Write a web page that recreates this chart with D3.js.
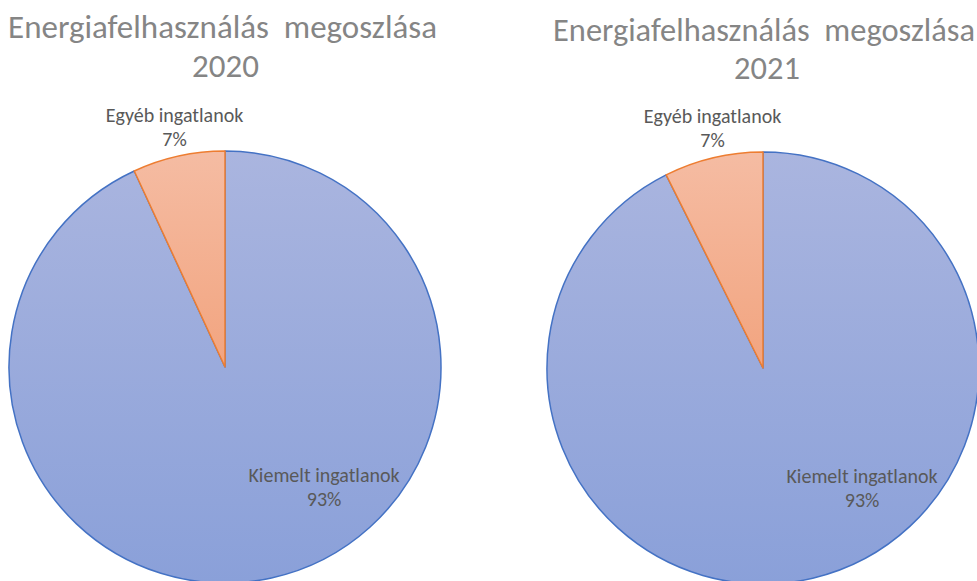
<!DOCTYPE html>
<html lang="hu">
<head>
  <meta charset="utf-8">
  <title>Energiafelhasználás megoszlása</title>
  <script src="https://d3js.org/d3.v7.min.js"></script>
  <style>
    body { margin: 0; background: #fff; }
    svg text { font-family: Calibri, Carlito, Lato, "Liberation Sans", sans-serif; }
  </style>
</head>
<body>
<div id="chart"></div>
<script>
  // adatok
  var evek = ["2020", "2021"];
  var kategoriak = ["Kiemelt ingatlanok", "Egyéb ingatlanok"];
  var ertekek2020 = [93.1, 6.9];
  var ertekek2021 = [92.6, 7.4];
  var cimkek = ["93%", "7%"];
  var cim = "Energiafelhasználás  megoszlása";

  var szelesseg = 977, magassag = 581;
  var r = 216;
  var kozepek = [{ x: 225, y: 367 }, { x: 763, y: 368 }];
  var cimY = [[38, 77], [41, 79]];

  var svg = d3.select("#chart").append("svg")
    .attr("width", szelesseg)
    .attr("height", magassag);

  var defs = svg.append("defs");

  function gradiens(id, felso, also) {
    var g = defs.append("linearGradient")
      .attr("id", id)
      .attr("x1", 0).attr("y1", 0).attr("x2", 0).attr("y2", 1);
    g.append("stop").attr("offset", "0%").attr("stop-color", felso);
    g.append("stop").attr("offset", "100%").attr("stop-color", also);
  }
  gradiens("kek", "#aab5df", "#8aa0d9");
  gradiens("narancs", "#f5bca3", "#f2a47f");

  var szin = d3.scaleOrdinal().domain(kategoriak).range(["url(#kek)", "url(#narancs)"]);
  var keret = d3.scaleOrdinal().domain(kategoriak).range(["#4472c4", "#ed7d31"]);

  var pie = d3.pie().sort(null).value(d => d.ertek);
  var arc = d3.arc().innerRadius(0).outerRadius(r);

  // cimke pozicio: szog (fok, felulrol oramutato iranyban) es sugar arany
  var cimkeHely = {
    "Kiemelt ingatlanok": { szog: 142, arany: 0.745 },
    "Egyéb ingatlanok": { szog: -12.2, arany: 1.105 }
  };

  function fitText(sel, width) {
    var w = sel.node().getComputedTextLength();
    var fs = parseFloat(sel.attr("font-size"));
    sel.attr("font-size", fs * width / w);
  }

  [ertekek2020, ertekek2021].forEach(function (ertekek, i) {
    var dados = kategoriak.map((k, j) => ({ kat: k, ertek: ertekek[j], cimke: cimkek[j] }));
    var c = kozepek[i];
    var g = svg.append("g").attr("transform", "translate(" + c.x + "," + c.y + ")");

    // cim
    var t1 = svg.append("text")
      .attr("x", i == 0 ? 222.5 : 764)
      .attr("y", cimY[i][0])
      .attr("text-anchor", "middle")
      .attr("font-size", 28)
      .attr("fill", "#858585")
      .style("white-space", "pre")
      .text(cim);
    fitText(t1, i == 0 ? 429 : 422);
    svg.append("text")
      .attr("x", i == 0 ? 225.5 : 767)
      .attr("y", cimY[i][1])
      .attr("text-anchor", "middle")
      .attr("font-size", t1.attr("font-size"))
      .attr("fill", "#858585")
      .text(evek[i]);

    var szeletek = g.selectAll("path")
      .data(pie(dados))
      .enter()
      .append("path")
      .attr("d", arc)
      .attr("fill", d => szin(d.data.kat))
      .attr("stroke", d => keret(d.data.kat))
      .attr("stroke-width", 1.5)
      .attr("stroke-linejoin", "round");

    // narancs szelet keretet elore hozzuk
    szeletek.filter(d => d.data.kat == "Egyéb ingatlanok").raise();

    var cimkeG = g.selectAll(".cimke")
      .data(pie(dados))
      .enter()
      .append("text")
      .attr("class", "cimke")
      .attr("text-anchor", "middle")
      .attr("font-size", 20)
      .attr("fill", "#595959")
      .attr("transform", function (d) {
        var h = cimkeHely[d.data.kat];
        var a = h.szog * Math.PI / 180;
        var rr = r * h.arany;
        return "translate(" + (Math.sin(a) * rr) + "," + (-Math.cos(a) * rr) + ")";
      });
    cimkeG.append("tspan").attr("x", 0).attr("dy", "-0.6em").text(d => d.data.kat);
    cimkeG.append("tspan").attr("x", 0).attr("dy", "1.2em").text(d => d.data.cimke);
  });
</script>
</body>
</html>
